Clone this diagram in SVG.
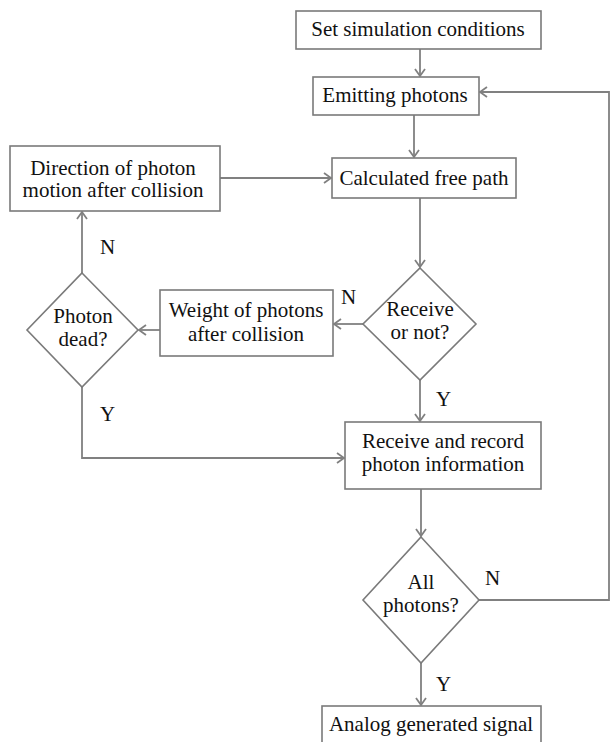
<svg xmlns="http://www.w3.org/2000/svg" width="613" height="742" viewBox="0 0 613 742">
<style>
.box{fill:#fff;stroke:#7a7a7a;stroke-width:1.6}
.ln{fill:none;stroke:#808080;stroke-width:1.8}
.t{font-family:'Liberation Serif','Times New Roman','DejaVu Serif',serif;font-size:21px;fill:#111;text-anchor:middle}
.l{font-family:'Liberation Serif','Times New Roman','DejaVu Serif',serif;font-size:21px;fill:#111}
</style>
<defs>
<marker id="ah" markerWidth="12" markerHeight="12" refX="10" refY="6" orient="auto" markerUnits="userSpaceOnUse">
<polyline points="3,1 10,6 3,11" fill="none" stroke="#808080" stroke-width="1.8"/>
</marker>
</defs>
<rect width="613" height="742" fill="#fff"/>
<g id="connectors">
<line class="ln" x1="420" y1="49" x2="420" y2="76" marker-end="url(#ah)"/>
<line class="ln" x1="414" y1="115" x2="414" y2="157" marker-end="url(#ah)"/>
<line class="ln" x1="420" y1="198" x2="420" y2="267" marker-end="url(#ah)"/>
<line class="ln" x1="363" y1="324" x2="334" y2="324" marker-end="url(#ah)"/>
<line class="ln" x1="160" y1="330" x2="139" y2="330" marker-end="url(#ah)"/>
<line class="ln" x1="82" y1="273" x2="82" y2="212" marker-end="url(#ah)"/>
<line class="ln" x1="220" y1="178" x2="331" y2="178" marker-end="url(#ah)"/>
<line class="ln" x1="420" y1="380" x2="420" y2="421" marker-end="url(#ah)"/>
<polyline class="ln" points="82,387 82,458 344,458" marker-end="url(#ah)"/>
<line class="ln" x1="421" y1="489" x2="421" y2="536" marker-end="url(#ah)"/>
<polyline class="ln" points="479,600 609,600 609,92 480,92" marker-end="url(#ah)"/>
<line class="ln" x1="421" y1="663" x2="421" y2="705" marker-end="url(#ah)"/>
<text class="l" x="100" y="254">N</text>
<text class="l" x="100" y="421">Y</text>
<text class="l" x="341" y="304">N</text>
<text class="l" x="436" y="406">Y</text>
<text class="l" x="485" y="585">N</text>
<text class="l" x="436" y="691">Y</text>
</g>
<g id="set">
<rect class="box" x="296" y="11" width="245" height="38"/>
<text class="t" x="418" y="36">Set simulation conditions</text>
</g>
<g id="emit">
<rect class="box" x="313" y="77" width="166" height="38"/>
<text class="t" x="395" y="102">Emitting photons</text>
</g>
<g id="calc">
<rect class="box" x="332" y="158" width="184" height="40"/>
<text class="t" x="424" y="185">Calculated free path</text>
</g>
<g id="direction">
<rect class="box" x="10" y="146" width="210" height="65"/>
<text class="t" x="113" y="175">Direction of photon</text>
<text class="t" x="113" y="197">motion after collision</text>
</g>
<g id="receive">
<polygon class="box" points="420,268 476,324 420,380 363,324"/>
<text class="t" x="420" y="316">Receive</text>
<text class="t" x="420" y="339">or not?</text>
</g>
<g id="weight">
<rect class="box" x="160" y="290" width="173" height="66"/>
<text class="t" x="246" y="317">Weight of photons</text>
<text class="t" x="246" y="341">after collision</text>
</g>
<g id="dead">
<polygon class="box" points="82,273 138,330 82,387 27,330"/>
<text class="t" x="83" y="323">Photon</text>
<text class="t" x="83" y="346">dead?</text>
</g>
<g id="record">
<rect class="box" x="345" y="422" width="196" height="67"/>
<text class="t" x="443" y="448">Receive and record</text>
<text class="t" x="443" y="471">photon information</text>
</g>
<g id="all">
<polygon class="box" points="421,537 479,600 421,663 363,600"/>
<text class="t" x="421" y="589">All</text>
<text class="t" x="421" y="612">photons?</text>
</g>
<g id="analog">
<rect class="box" x="322" y="706" width="219" height="60"/>
<text class="t" x="431" y="731">Analog generated signal</text>
</g>
</svg>
